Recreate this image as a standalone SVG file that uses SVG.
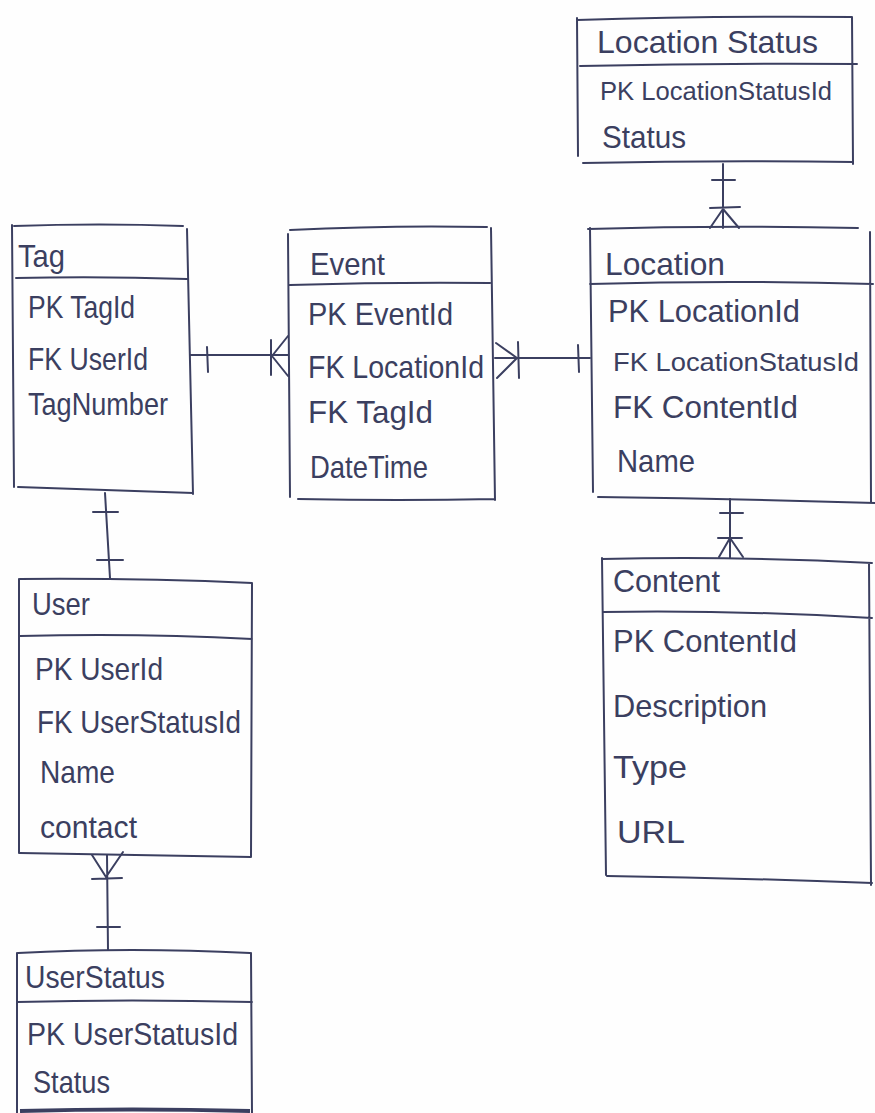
<svg xmlns="http://www.w3.org/2000/svg" width="875" height="1113" viewBox="0 0 875 1113">
<style>
.ln{fill:none;stroke:#3b3f60;stroke-width:2;stroke-linecap:round;stroke-linejoin:round}
.t{font-family:"Liberation Sans","DejaVu Sans",sans-serif;font-size:32px;fill:#3b3f60}
.s{font-size:26px}
</style>
<rect width="875" height="1113" fill="#fefefe"/>
<g id="node-location-status">
<path class="ln" d="M577,20 Q700,16 852,17 M577,18 L578,156 M852,17 L853,164 M580,66 Q720,63 857,64 M583,163 Q720,160 853,162"/>
<text class="t" x="597" y="53" textLength="221" lengthAdjust="spacingAndGlyphs">Location Status</text>
<text class="t s" x="600" y="100" textLength="232" lengthAdjust="spacingAndGlyphs">PK LocationStatusId</text>
<text class="t" x="602" y="148" textLength="84" lengthAdjust="spacingAndGlyphs">Status</text>
</g>
<g id="node-tag">
<path class="ln" d="M14,226 Q100,223 183,226 M12,225 L14,487 M187,229 L193,494 M16,278 Q100,276 187,279 M18,487 Q100,490 193,493"/>
<text class="t" x="18" y="267" textLength="47" lengthAdjust="spacingAndGlyphs">Tag</text>
<text class="t" x="28" y="318" textLength="107" lengthAdjust="spacingAndGlyphs">PK TagId</text>
<text class="t" x="28" y="370" textLength="120" lengthAdjust="spacingAndGlyphs">FK UserId</text>
<text class="t" x="28" y="415" textLength="140" lengthAdjust="spacingAndGlyphs">TagNumber</text>
</g>
<g id="node-event">
<path class="ln" d="M290,230 Q390,225 487,227 M288,234 L290,497 M491,228 L495,500 M290,285 Q390,282 490,283 M298,499 Q400,501 495,499"/>
<text class="t" x="310" y="275" textLength="75" lengthAdjust="spacingAndGlyphs">Event</text>
<text class="t" x="308" y="325" textLength="145" lengthAdjust="spacingAndGlyphs">PK EventId</text>
<text class="t" x="308" y="378" textLength="176" lengthAdjust="spacingAndGlyphs">FK LocationId</text>
<text class="t" x="308" y="423" textLength="125" lengthAdjust="spacingAndGlyphs">FK TagId</text>
<text class="t" x="310" y="478" textLength="118" lengthAdjust="spacingAndGlyphs">DateTime</text>
</g>
<g id="node-location">
<path class="ln" d="M588,229 Q720,225 858,228 M590,228 L593,492 M870,232 L871,503 M590,284 Q730,280 873,284 M598,497 Q740,499 875,503"/>
<text class="t" x="605" y="275" textLength="120" lengthAdjust="spacingAndGlyphs">Location</text>
<text class="t" x="608" y="322" textLength="192" lengthAdjust="spacingAndGlyphs">PK LocationId</text>
<text class="t s" x="613" y="371" textLength="246" lengthAdjust="spacingAndGlyphs">FK LocationStatusId</text>
<text class="t" x="613" y="418" textLength="185" lengthAdjust="spacingAndGlyphs">FK ContentId</text>
<text class="t" x="617" y="472" textLength="78" lengthAdjust="spacingAndGlyphs">Name</text>
</g>
<g id="node-content">
<path class="ln" d="M602,559 Q740,556 872,563 M602,558 L606,875 M869,563 L871,885 M603,612 Q740,610 872,618 M607,876 Q740,878 872,883"/>
<text class="t" x="613" y="592" textLength="107" lengthAdjust="spacingAndGlyphs">Content</text>
<text class="t" x="613" y="652" textLength="184" lengthAdjust="spacingAndGlyphs">PK ContentId</text>
<text class="t" x="613" y="717" textLength="154" lengthAdjust="spacingAndGlyphs">Description</text>
<text class="t" x="613" y="778" textLength="74" lengthAdjust="spacingAndGlyphs">Type</text>
<text class="t" x="617" y="843" textLength="68" lengthAdjust="spacingAndGlyphs">URL</text>
</g>
<g id="node-user">
<path class="ln" d="M20,579 Q140,578 252,583 M19,579 L19,853 M252,583 L251,857 M20,636 Q140,633 252,639 M20,853 Q140,855 251,857"/>
<text class="t" x="32" y="615" textLength="58" lengthAdjust="spacingAndGlyphs">User</text>
<text class="t" x="35" y="680" textLength="128" lengthAdjust="spacingAndGlyphs">PK UserId</text>
<text class="t" x="37" y="733" textLength="204" lengthAdjust="spacingAndGlyphs">FK UserStatusId</text>
<text class="t" x="40" y="783" textLength="75" lengthAdjust="spacingAndGlyphs">Name</text>
<text class="t" x="40" y="838" textLength="97" lengthAdjust="spacingAndGlyphs">contact</text>
</g>
<g id="node-user-status">
<path class="ln" d="M18,953 Q130,947 250,953 M17,953 L17,1113 M251,953 L252,1113 M17,1002 Q130,999 252,1002"/>
<path d="M20,1111 Q130,1108 250,1111" fill="none" stroke="#3b3f60" stroke-width="4"/>
<text class="t" x="25" y="988" textLength="140" lengthAdjust="spacingAndGlyphs">UserStatus</text>
<text class="t" x="27" y="1045" textLength="211" lengthAdjust="spacingAndGlyphs">PK UserStatusId</text>
<text class="t" x="33" y="1093" textLength="77" lengthAdjust="spacingAndGlyphs">Status</text>
</g>
<g id="connectors">
<path class="ln" d="M190,355 L288,355 M207,347 L208,372 M271,340 L271,375 M272,356 L288,336 M272,356 L288,376"/>
<path class="ln" d="M495,358 L590,358 M496,343 L517,358 L497,378 M518,342 L519,378 M578,345 L579,372"/>
<path class="ln" d="M723,164 L723,228 M712,180 L735,180 M710,208 L740,207 M723,209 L710,228 M723,209 L739,228"/>
<path class="ln" d="M730,499 L730,558 M720,513 L743,513 M718,538 L742,538 M730,538 L719,557 M730,538 L743,557"/>
<path class="ln" d="M105,493 L110,578 M93,512 L118,512 M97,560 L123,560"/>
<path class="ln" d="M107,855 L108,950 M92,855 L106,877 M123,852 L106,877 M92,879 L122,878 M97,927 L120,927"/>
</g>
</svg>
